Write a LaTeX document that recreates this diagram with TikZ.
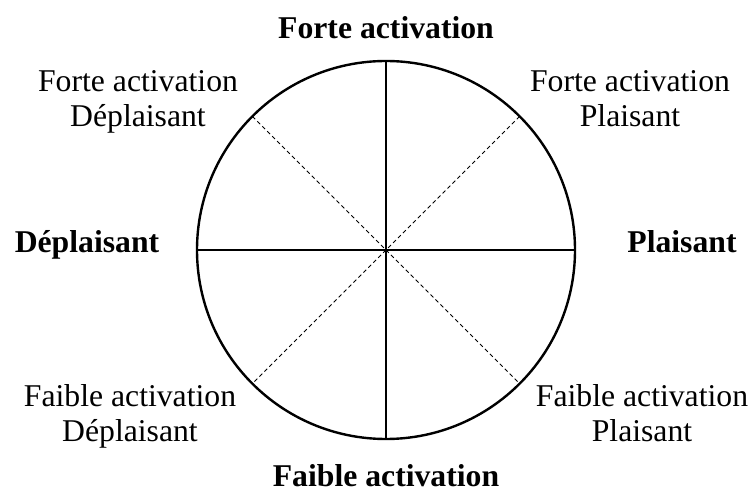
\documentclass[tikz,border=0pt]{standalone}
\usepackage{fontspec}
\setmainfont{Liberation Serif}
\begin{document}
\begin{tikzpicture}[x=1pt,y=-1pt,
  lbl/.style={anchor=base,inner sep=0pt,font=\fontsize{31.7}{35}\selectfont},
  blbl/.style={lbl,font=\fontsize{31.7}{35}\selectfont\bfseries},
  axis/.style={line width=1.1pt},
  diag/.style={line width=0.9pt,dash pattern=on 4pt off 3pt}]
\useasboundingbox (0,0) rectangle (753,494);
\node[circle,draw,line width=2.4pt,minimum size=378pt,inner sep=0pt,outer sep=0pt] (c) at (386,250) {};
\draw[axis] (c.north) -- (c.south);
\draw[axis] (c.west) -- (c.east);
\draw[diag] (c.north west) -- (c.south east);
\draw[diag] (c.north east) -- (c.south west);
\node[blbl] (top) at (386,39) {Forte activation};
\node[blbl] (bot) at (386,486) {Faible activation};
\node[blbl] (left) at (87,253) {Déplaisant};
\node[blbl] (right) at (682,253) {Plaisant};
\node[lbl] (ul1) at (138,92) {Forte activation};
\node[lbl] (ul2) at (138,127) {Déplaisant};
\node[lbl] (ur1) at (630,92) {Forte activation};
\node[lbl] (ur2) at (630,127) {Plaisant};
\node[lbl] (ll1) at (130,407) {Faible activation};
\node[lbl] (ll2) at (130,442) {Déplaisant};
\node[lbl] (lr1) at (642,407) {Faible activation};
\node[lbl] (lr2) at (642,442) {Plaisant};
\end{tikzpicture}
\end{document}
